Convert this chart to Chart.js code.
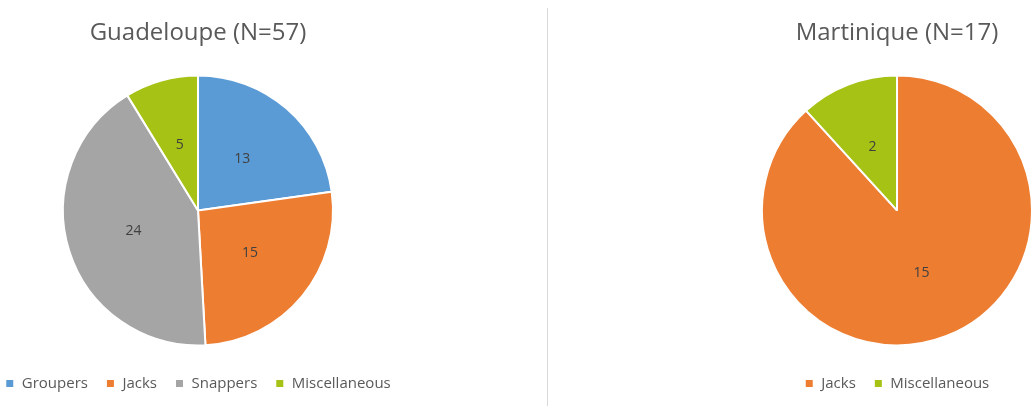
<!DOCTYPE html>
<html>
<head>
<meta charset="utf-8">
<script src="https://cdn.jsdelivr.net/npm/chart.js@4.4.0/dist/chart.umd.min.js"></script>
<style>
  html, body { margin: 0; padding: 0; background: #fff; overflow: hidden; }
  body { width: 1033px; height: 406px; position: relative; }
  .box { position: absolute; top: 0; height: 406px; }
  #leftBox { left: -32px; width: 460px; }
  #rightBox { left: 747px; width: 300px; }
  #divider { position: absolute; left: 547px; top: 8px; width: 1px; height: 398px; background: #d9d9d9; }
</style>
</head>
<body>
<div class="box" id="leftBox"><canvas id="gua"></canvas></div>
<div id="divider"></div>
<div class="box" id="rightBox"><canvas id="mar"></canvas></div>
<script>
var guaLabels = ['Groupers', 'Jacks', 'Snappers', 'Miscellaneous'];
var guaValues = [13, 15, 24, 5];
var guaColors = ['#5B9BD5', '#ED7D31', '#A5A5A5', '#A5C215'];

var marLabels = ['Jacks', 'Miscellaneous'];
var marValues = [15, 2];
var marColors = ['#ED7D31', '#A5C215'];

var FONT = "'Open Sans', 'DejaVu Sans', sans-serif";

// dibuja el valor de cada porción en el centro del arco
var sliceValues = {
    id: 'sliceValues',
    afterDatasetsDraw: function(chart) {
        var ctx = chart.ctx;
        var meta = chart.getDatasetMeta(0);
        var data = chart.data.datasets[0].data;
        ctx.save();
        ctx.fillStyle = '#404040';
        ctx.font = '14px ' + FONT;
        ctx.textAlign = 'center';
        ctx.textBaseline = 'middle';
        meta.data.forEach(function(arc, i) {
            var p = arc.tooltipPosition();
            ctx.fillText(String(data[i]), p.x, p.y);
        });
        ctx.restore();
    }
};

function makePie(id, title, labels, values, colors) {
    var ctx = document.getElementById(id).getContext('2d');
    return new Chart(ctx, {
        type: 'pie',
        data: {
            labels: labels,
            datasets: [{
                data: values,
                backgroundColor: colors,
                borderColor: '#ffffff',
                borderWidth: 2,
                radius: 135
            }]
        },
        options: {
            responsive: true,
            maintainAspectRatio: false,
            animation: false,
            layout: { padding: { top: 0, bottom: 5 } },
            plugins: {
                title: {
                    display: true,
                    text: title,
                    color: '#595959',
                    font: { family: FONT, size: 24, weight: 'normal' },
                    padding: { top: 19, bottom: 15 }
                },
                legend: {
                    position: 'bottom',
                    labels: {
                        boxWidth: 9,
                        boxHeight: 9,
                        padding: 18,
                        color: '#595959',
                        font: { family: FONT, size: 15 }
                    }
                },
                tooltip: { enabled: false }
            }
        },
        plugins: [sliceValues]
    });
}

makePie('gua', 'Guadeloupe (N=57)', guaLabels, guaValues, guaColors);
makePie('mar', 'Martinique (N=17)', marLabels, marValues, marColors);
</script>
</body>
</html>
